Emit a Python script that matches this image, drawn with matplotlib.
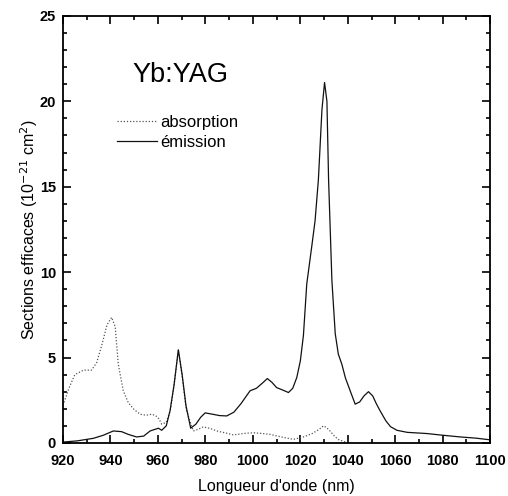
import matplotlib
matplotlib.use("Agg")
import matplotlib.pyplot as plt
from matplotlib.ticker import MultipleLocator

plt.rcParams['font.family'] = ['Liberation Sans', 'DejaVu Sans']

# Emission cross-section (10^-21 cm^2)
em_wl = [920, 926, 932.8, 937, 941.2, 944.7, 947.5, 951, 954, 956.7, 960.2, 961.6, 963.5, 965.1, 966.8,
         968.6, 970.2, 971.8, 973.8, 976, 978, 979.9, 983, 986, 989, 992, 995, 998.8, 1001.5, 1004,
         1006.1, 1008, 1010, 1012.5, 1015, 1016.8, 1018.5, 1020, 1021.3, 1022.7, 1024.9, 1026.2,
         1027.6, 1029.1, 1030.2, 1031.2, 1031.9, 1033.3, 1034.7, 1036, 1037.5, 1039, 1041, 1043.1,
         1045, 1046.8, 1048.7, 1050.5, 1052, 1053.6, 1056, 1058, 1060.7, 1065, 1073.3, 1080, 1087.4,
         1094, 1100]
em_val = [0.05, 0.12, 0.27, 0.45, 0.70, 0.66, 0.5, 0.35, 0.4, 0.70, 0.86, 0.74, 1.0, 1.88, 3.4,
          5.45, 4.0, 2.2, 0.86, 1.1, 1.5, 1.76, 1.68, 1.6, 1.58, 1.8, 2.3, 3.05, 3.2, 3.5,
          3.77, 3.55, 3.24, 3.1, 2.95, 3.2, 3.83, 4.8, 6.3, 9.3, 11.6, 13.0,
          15.4, 19.5, 21.1, 20.0, 15.4, 9.5, 6.4, 5.2, 4.6, 3.8, 3.05, 2.27,
          2.4, 2.75, 3.0, 2.75, 2.3, 1.88, 1.3, 0.95, 0.74, 0.62, 0.55, 0.45, 0.35,
          0.28, 0.18]

# Absorption cross-section (10^-21 cm^2)
ab_wl = [920, 922.5, 925, 928.6, 932, 934.2, 936.5, 938.5, 940.5, 942, 943.3, 945.4, 947.5, 950,
         952.5, 955, 957.4, 959, 960.2, 961.6, 963.5, 965.2, 966.8, 968.6, 970.2, 972, 974.9,
         977, 979.1, 982, 984.8, 988, 991.8, 996, 1000.2, 1004, 1007.3, 1012, 1017.1, 1021.3,
         1025, 1028, 1029.7, 1031, 1032.5, 1034, 1036, 1039.6]
ab_val = [2.2, 3.2, 4.0, 4.26, 4.26, 4.7, 5.8, 6.9, 7.35, 6.8, 4.6, 3.05, 2.36, 1.95,
          1.68, 1.62, 1.68, 1.6, 1.45, 1.1, 1.2, 1.9, 3.4, 5.45, 3.9, 1.9, 0.7,
          0.8, 0.94, 0.85, 0.7, 0.6, 0.47, 0.55, 0.6, 0.55, 0.5, 0.35, 0.21, 0.35,
          0.55, 0.8, 1.0, 0.9, 0.7, 0.45, 0.2, 0.02]

x_ticks = [920, 940, 960, 980, 1000, 1020, 1040, 1060, 1080, 1100]
y_ticks = [0, 5, 10, 15, 20, 25]

fig = plt.figure(figsize=(5.08, 4.96), dpi=100)
ax = fig.add_axes([0.124, 0.107, 0.841, 0.861])

ax.plot(ab_wl, ab_val, linestyle=(0, (1, 1.5)), color='#555555', linewidth=0.9, label='absorption')
ax.plot(em_wl, em_val, linestyle='-', color='#111111', linewidth=0.9, label='émission')

ax.set_xlim(920, 1100)
ax.set_ylim(0, 25)
ax.set_xticks(x_ticks)
ax.set_yticks(y_ticks)
ax.xaxis.set_minor_locator(MultipleLocator(10))
ax.yaxis.set_minor_locator(MultipleLocator(1))
ax.tick_params(which='both', direction='in', top=True, right=True, width=1.2)
ax.tick_params(which='major', length=6, labelsize=10.5)
ax.tick_params(which='minor', length=3)
ax.tick_params(axis='x', which='major', pad=8)
ax.tick_params(axis='y', which='major', pad=5)
for lbl in ax.get_xticklabels() + ax.get_yticklabels():
    lbl.set_fontweight('bold')
for sp in ax.spines.values():
    sp.set_linewidth(1.3)

ax.set_xlabel("Longueur d'onde (nm)", fontsize=11.5, labelpad=8)
ax.set_ylabel("Sections efficaces (10$^{-21}$ cm$^{2}$)", fontsize=11.5, labelpad=0)

ax.text(0.274, 0.862, "Yb:YAG", transform=ax.transAxes, fontsize=19.5, ha='center', va='center')
ax.legend(loc='upper left', bbox_to_anchor=(0.126, 0.768), frameon=False, fontsize=12,
          borderpad=0, borderaxespad=0,
          handlelength=2.4, handletextpad=0.2, labelspacing=0.32)

fig.savefig("out.png", dpi=100)
